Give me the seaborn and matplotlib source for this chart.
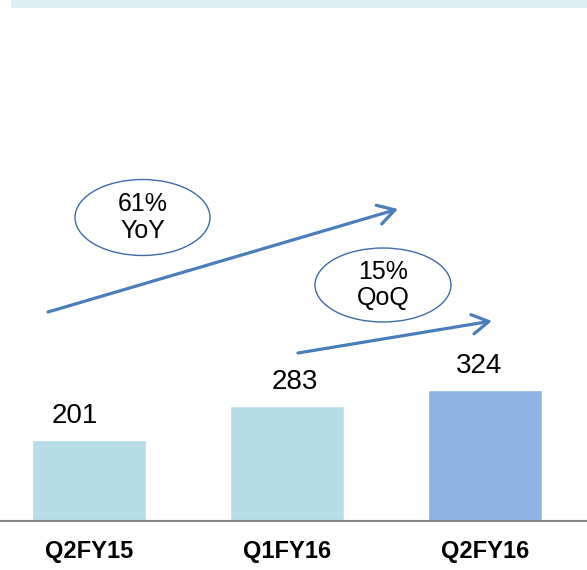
"""plot.py
Quarterly bar chart with YoY / QoQ growth call-outs.
"""

# Imports
import matplotlib.pyplot as plt
import matplotlib as mpl
from matplotlib.patches import Ellipse, Rectangle
import seaborn as sns
import pandas as pd

# Data
quarters = ['Q2FY15', 'Q1FY16', 'Q2FY16']
values = [201, 283, 324]
bar_colors = ['#b7dde8', '#b7dde8', '#8eb4e3']
growth_labels = ['61%\nYoY', '15%\nQoQ']

# Layout (pixels)
W, H = 587, 570
label_dx = [-14, 8, -6]

df = pd.DataFrame({'quarter': quarters, 'value': values})

sns.set_style('white')
mpl.rcParams['font.family'] = ['Liberation Sans', 'DejaVu Sans']
mpl.rcParams['text.color'] = 'black'
mpl.rcParams['xtick.color'] = 'black'

fig = plt.figure(figsize=(W / 100, H / 100), dpi=100)
base = 521
ax = fig.add_axes([0, (H - base) / H, 1, base / H])

sns.barplot(data=df, x='quarter', y='value', hue='quarter',
            palette=bar_colors, width=0.573, legend=False, ax=ax,
            saturation=1)

ax.set_xlim(-89 / 198, (W - 89) / 198)
ax.set_ylim(0, base / 0.405)
ax.set_xlabel('')
ax.set_ylabel('')
ax.set_yticks([])
ax.tick_params(axis='x', length=0, pad=14, labelcolor='black')
for lab in ax.get_xticklabels():
    lab.set_fontsize(17)
    lab.set_fontweight('bold')
for side in ['top', 'left', 'right']:
    ax.spines[side].set_visible(False)
ax.spines['bottom'].set_color('#878787')
ax.spines['bottom'].set_linewidth(1.5)

# Value labels
for i, v in enumerate(values):
    ax.annotate(str(v), xy=(i, v), xytext=(label_dx[i], 17),
                textcoords='offset pixels', ha='center', va='baseline',
                fontsize=20, color='black')

# Top band
fig.add_artist(Rectangle((10.5 / W, 1 - 7.5 / H), 1, 7.5 / H,
                         transform=fig.transFigure, color='#daeef3', lw=0))

# Growth arrows (figure pixels)
arrows = [((48, H - 312), (398, H - 209)),
          ((298, H - 353), (492, H - 321))]
for start, tip in arrows:
    ax.annotate('', xy=tip, xytext=start, xycoords='figure pixels',
                textcoords='figure pixels',
                arrowprops=dict(arrowstyle='->,head_length=0.6,head_width=0.35',
                                color='#4a7ebb', lw=2.3, mutation_scale=20,
                                shrinkA=0, shrinkB=0))

# Growth call-outs
ellipses = [(142.5, 217.5, 135, 76), (383, 285, 136, 74)]
for (cx, cy, ew, eh), txt in zip(ellipses, growth_labels):
    fig.add_artist(Ellipse((cx / W, 1 - cy / H), ew / W, eh / H,
                           transform=fig.transFigure, facecolor='white',
                           edgecolor='#3e6aa8', lw=1.0))
    fig.text(cx / W, 1 - cy / H, txt, ha='center', va='center',
             fontsize=18, linespacing=1.15, color='black')

fig.savefig('out.png', dpi=100)
